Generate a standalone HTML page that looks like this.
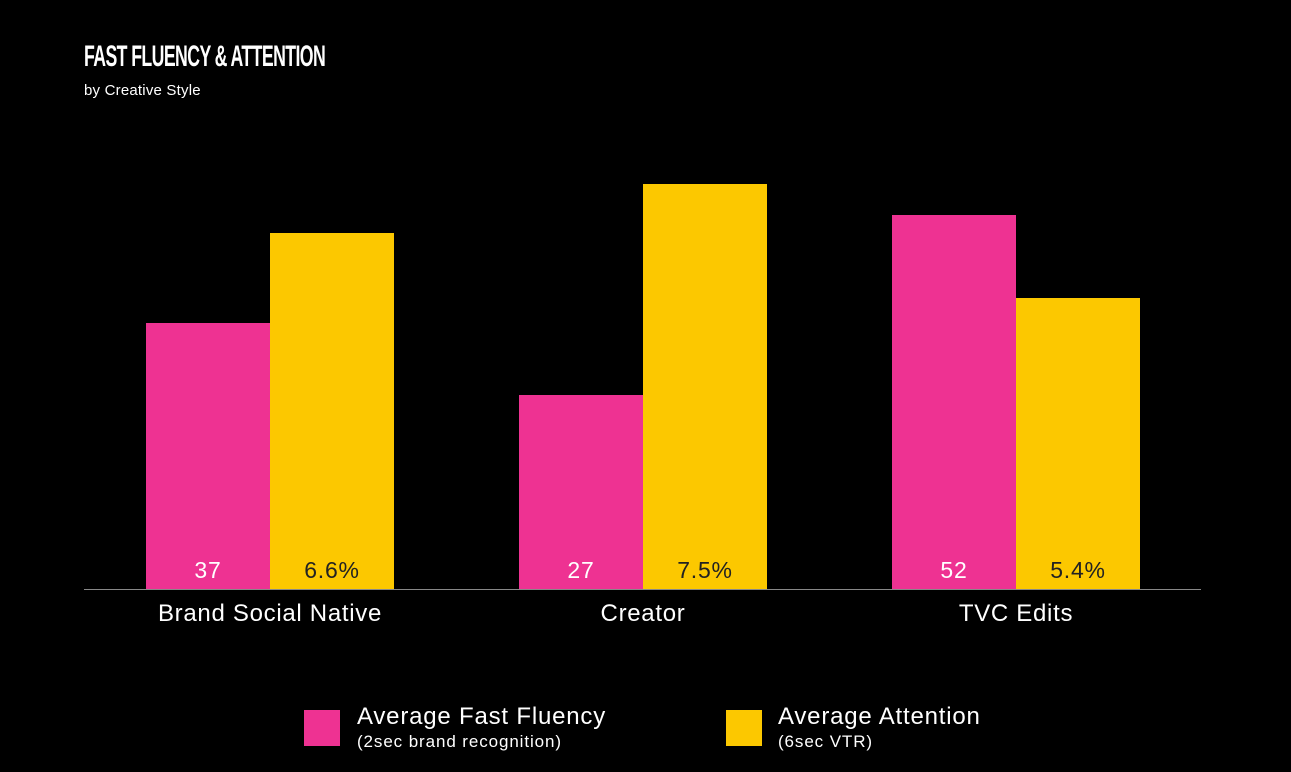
<!DOCTYPE html>
<html><head><style>
body{margin:0;width:1291px;height:772px;background:#000;position:relative;overflow:hidden;font-family:"Liberation Sans",sans-serif;color:#fff}
.a{position:absolute}
.t{left:84px;top:40px;font-family:"Liberation Sans Narrow","Liberation Sans",sans-serif;font-weight:bold;font-size:30px;letter-spacing:-1px;transform-origin:0 0;transform:scaleX(0.59);white-space:nowrap}
.s{left:84px;top:82px;font-size:15px;letter-spacing:0.2px}
.p{background:#EE3292}.y{background:#FCC800}
.bar{position:absolute;width:124px;bottom:183px}
.v{position:absolute;width:124px;text-align:center;top:557px;font-size:23px;letter-spacing:0.8px}
.c{position:absolute;text-align:center;top:600px;font-size:24px;letter-spacing:0.7px;width:300px}
.lg{font-size:24px;letter-spacing:0.8px;white-space:nowrap}.sm{font-size:17px;letter-spacing:0.9px;white-space:nowrap}
</style></head><body>
<div class="a t">FAST FLUENCY &amp; ATTENTION</div>
<div class="a s">by Creative Style</div>
<div class="bar p" style="left:146px;top:323px"></div>
<div class="bar y" style="left:270px;top:233px"></div>
<div class="bar p" style="left:519px;top:395px"></div>
<div class="bar y" style="left:643px;top:184px"></div>
<div class="bar p" style="left:892px;top:215px"></div>
<div class="bar y" style="left:1016px;top:298px"></div>
<div class="v" style="left:146px">37</div>
<div class="v" style="left:270px;color:#222">6.6%</div>
<div class="v" style="left:519px">27</div>
<div class="v" style="left:643px;color:#222">7.5%</div>
<div class="v" style="left:892px">52</div>
<div class="v" style="left:1016px;color:#222">5.4%</div>
<div class="a" style="left:84px;top:589px;width:1117px;height:1px;background:#888"></div>
<div class="c" style="left:120px">Brand Social Native</div>
<div class="c" style="left:493px">Creator</div>
<div class="c" style="left:866px">TVC Edits</div>
<div class="a p" style="left:304px;top:710px;width:36px;height:36px"></div>
<div class="a lg" style="left:357px;top:703px">Average Fast Fluency</div>
<div class="a sm" style="left:357px;top:732px">(2sec brand recognition)</div>
<div class="a y" style="left:726px;top:710px;width:36px;height:36px"></div>
<div class="a lg" style="left:778px;top:703px">Average Attention</div>
<div class="a sm" style="left:778px;top:732px">(6sec VTR)</div>
</body></html>
